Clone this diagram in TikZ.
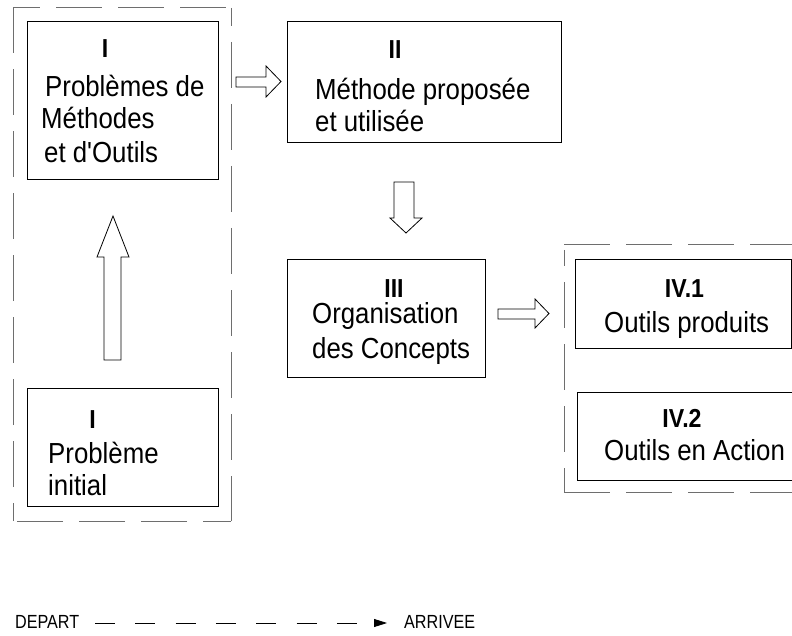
\documentclass[tikz,border=0pt]{standalone}
\usepackage{fontspec}
\setmainfont{Liberation Sans}[FakeStretch=0.89, Ligatures=TeXOff]
\usetikzlibrary{arrows.meta}
\definecolor{dashgray}{HTML}{6E6E6E}
\tikzset{
  box/.style={draw=black, line width=1pt, inner sep=0pt},
  txt/.style={anchor=base west, inner sep=0pt, font=\fontsize{29}{33}\selectfont},
  hdr/.style={anchor=base, inner sep=0pt, font=\fontsize{26}{30}\selectfont\bfseries},
  cont/.style={draw=dashgray, line width=1pt, dash pattern=on 46pt off 16pt},
  blockarrow/.style={draw=black, line width=0.8pt, fill=white},
  lab/.style={anchor=base west, inner sep=0pt, font=\fontsize{19}{21}\selectfont\addfontfeature{FakeStretch=0.85}},
}
\begin{document}
\begin{tikzpicture}[x=1pt, y=-1pt]
\useasboundingbox (0,0) rectangle (792,636);
\clip (0,0) rectangle (792,636);
% dashed containers
\draw[cont, dash phase=19pt] (13,8) -- (231,8);
\draw[cont, dash phase=28pt] (231,8) -- (231,521);
\draw[cont, dash phase=18pt] (231,521) -- (13,521);
\draw[cont, dash phase=28pt] (13,521) -- (13,8);
\draw[cont] (564,245) -- (800,245);
\draw[cont, dash phase=30pt] (564,250) -- (564,492);
\draw[cont] (564,492) -- (800,492);
% boxes
\node[box, minimum width=191, minimum height=158] (b1) at (122.5,101) {};
\node[box, minimum width=274, minimum height=121] (b2) at (424,82.5) {};
\node[box, minimum width=198, minimum height=117] (b3) at (386,318.5) {};
\node[box, minimum width=191, minimum height=118] (b0) at (122.5,447) {};
\node[box, minimum width=216, minimum height=88] (b4a) at (683,304) {};
\node[box, minimum width=225, minimum height=88] (b4b) at (689.5,436) {};
% texts
\node[hdr] (h1) at (105,58) {I};
\node[txt] (t1a) at (45,97) {Problèmes de};
\node[txt] (t1b) at (41,129) {Méthodes};
\node[txt] (t1c) at (44,163) {et d'Outils};
\node[hdr] (h2) at (395,59) {II};
\node[txt] (t2a) at (315,100) {Méthode proposée};
\node[txt] (t2b) at (315,132) {et utilisée};
\node[hdr] (h3) at (394,297) {III};
\node[txt] (t3a) at (312,323) {Organisation};
\node[txt] (t3b) at (312,358) {des Concepts};
\node[hdr] (h0) at (92.5,428) {I};
\node[txt] (t0a) at (48,463) {Problème};
\node[txt] (t0b) at (48,495) {initial};
\node[hdr] (h4a) at (684.5,298) {IV.1};
\node[txt] (t4a) at (604,332) {Outils produits};
\node[hdr] (h4b) at (682,427) {IV.2};
\node[txt] (t4b) at (604,460) {Outils en Action};
% block arrows
\draw[blockarrow] (104,360) -- (104,257) -- (97,257) -- (113,216) -- (129,257) -- (121,257) -- (121,360) -- cycle;
\draw[blockarrow] (236,77) -- (266,77) -- (266,66) -- (281,81.5) -- (266,97) -- (266,87) -- (236,87) -- cycle;
\draw[blockarrow] (394,182) -- (414,182) -- (414,218) -- (422,218) -- (406,233) -- (390,218) -- (394,218) -- cycle;
\draw[blockarrow] (498,309) -- (535,309) -- (535,299) -- (549,313.5) -- (535,328) -- (535,319) -- (498,319) -- cycle;
% bottom line
\node[lab] (dep) at (15,628) {DEPART};
\node[lab] (arr) at (404,628) {ARRIVEE};
\coordinate (ls) at (95,623);
\coordinate (le) at (387,623);
\draw[black, line width=0.8pt, dash pattern=on 20pt off 20.3pt, -{Triangle[length=13pt,width=8pt]}] (ls) -- (le);
\end{tikzpicture}
\end{document}
